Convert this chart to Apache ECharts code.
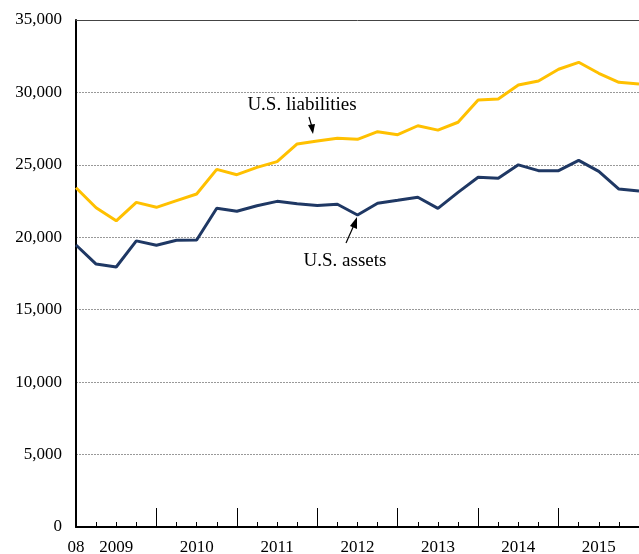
<!DOCTYPE html>
<html>
<head>
    <meta charset="UTF-8">
    <title>U.S. assets and liabilities</title>
    <script src="https://cdn.jsdelivr.net/npm/echarts@6/dist/echarts.min.js"></script>
    <style>
        html, body { margin: 0; padding: 0; background: #fff; }
        #main { width: 639px; height: 554px; }
    </style>
</head>
<body>
    <div id="main"></div>
    <script type="text/javascript">
        // quarters, 2008Q4 .. 2015Q4
        var quarters = [
            '2008Q4',
            '2009Q1', '2009Q2', '2009Q3', '2009Q4',
            '2010Q1', '2010Q2', '2010Q3', '2010Q4',
            '2011Q1', '2011Q2', '2011Q3', '2011Q4',
            '2012Q1', '2012Q2', '2012Q3', '2012Q4',
            '2013Q1', '2013Q2', '2013Q3', '2013Q4',
            '2014Q1', '2014Q2', '2014Q3', '2014Q4',
            '2015Q1', '2015Q2', '2015Q3', '2015Q4'
        ];
        // billions of dollars
        var usAssets = [
            19470,
            18150, 17950, 19750, 19450,
            19790, 19810, 22000, 21800,
            22180, 22480, 22320, 22200,
            22280, 21540, 22350, 22550,
            22760, 22000, 23100, 24140,
            24070, 25000, 24600, 24600,
            25310, 24550, 23330, 23200
        ];
        var usLiabilities = [
            23420,
            22040, 21140, 22410, 22070,
            22530, 22990, 24690, 24320,
            24830, 25220, 26440, 26650,
            26830, 26760, 27290, 27080,
            27700, 27400, 27940, 29480,
            29550, 30510, 30790, 31600,
            32080, 31320, 30700, 30580
        ];
        // x labels: which quarter index carries which text
        var xLabelIdx = [0, 2, 6, 10, 14, 18, 22, 26];
        var xLabelText = ['08', '2009', '2010', '2011', '2012', '2013', '2014', '2015'];
        var yMax = 35000, yStep = 5000;

        var serif = '"Liberation Serif", "DejaVu Serif", serif';
        var myChart = echarts.init(document.getElementById('main'));

        var option = {
            animation: false,
            backgroundColor: '#fff',
            grid: { left: 76, right: 0, top: 20, bottom: 27, containLabel: false, outerBoundsMode: 'none' },
            xAxis: [{
                type: 'category',
                data: quarters,
                boundaryGap: false,
                position: 'bottom',
                axisLine: { show: true, onZero: false, lineStyle: { color: '#000', width: 2 } },
                axisTick: { show: true, inside: true, length: 5, interval: 0, lineStyle: { color: '#000', width: 1 } },
                axisLabel: {
                    interval: function (i) { return xLabelIdx.indexOf(i) >= 0; },
                    formatter: function (v, i) { return xLabelText[xLabelIdx.indexOf(i)]; },
                    margin: 12, color: '#000', fontFamily: serif, fontSize: 17
                },
                splitLine: { show: false }
            }, {
                // tall year ticks
                type: 'category',
                data: quarters,
                boundaryGap: false,
                position: 'bottom',
                offset: 0,
                axisLine: { show: false },
                axisTick: {
                    show: true, inside: true, length: 19,
                    interval: function (i) { return i > 0 && i % 4 === 0; },
                    lineStyle: { color: '#000', width: 1 }
                },
                axisLabel: { show: false },
                splitLine: { show: false }
            }, {
                // top frame line
                type: 'category',
                data: quarters,
                boundaryGap: false,
                position: 'top',
                axisLine: { show: true, onZero: false, lineStyle: { color: '#444', width: 1 } },
                axisTick: { show: false },
                axisLabel: { show: false },
                splitLine: { show: false }
            }],
            yAxis: {
                type: 'value',
                min: 0,
                max: yMax,
                interval: yStep,
                axisLine: { show: true, lineStyle: { color: '#000', width: 2 } },
                axisTick: { show: false },
                axisLabel: {
                    margin: 14, color: '#000', fontFamily: serif, fontSize: 17,
                    formatter: function (v) { return v.toLocaleString('en-US'); }
                },
                splitLine: { show: true, lineStyle: { color: '#999', type: [2, 1], width: 1 } }
            },
            series: [{
                name: 'U.S. liabilities',
                type: 'line',
                data: usLiabilities,
                symbol: 'none',
                lineStyle: { color: '#FFC000', width: 3 },
                z: 3
            }, {
                name: 'U.S. assets',
                type: 'line',
                data: usAssets,
                symbol: 'none',
                lineStyle: { color: '#1F3864', width: 3 },
                z: 3
            }],
            graphic: [
                // cut-off unit label at the very top
                { type: 'text', left: 78, top: -14, style: { text: 'Billions of dollars', font: '17px ' + serif, fill: '#bbb' } },
                { type: 'text', x: 302, y: 105, style: { text: 'U.S. liabilities', font: '19px ' + serif, fill: '#000', align: 'center', verticalAlign: 'middle' } },
                { type: 'line', shape: { x1: 309, y1: 117, x2: 312, y2: 127 }, style: { stroke: '#000', lineWidth: 1.2 } },
                { type: 'polygon', shape: { points: [[313, 134], [308, 125], [315, 124]] }, style: { fill: '#000' } },
                { type: 'text', x: 345, y: 261, style: { text: 'U.S. assets', font: '19px ' + serif, fill: '#000', align: 'center', verticalAlign: 'middle' } },
                { type: 'line', shape: { x1: 346, y1: 243, x2: 354, y2: 225 }, style: { stroke: '#000', lineWidth: 1.2 } },
                { type: 'polygon', shape: { points: [[357, 217], [350, 226], [357, 229]] }, style: { fill: '#000' } }
            ]
        };

        myChart.setOption(option);
    </script>
</body>
</html>
